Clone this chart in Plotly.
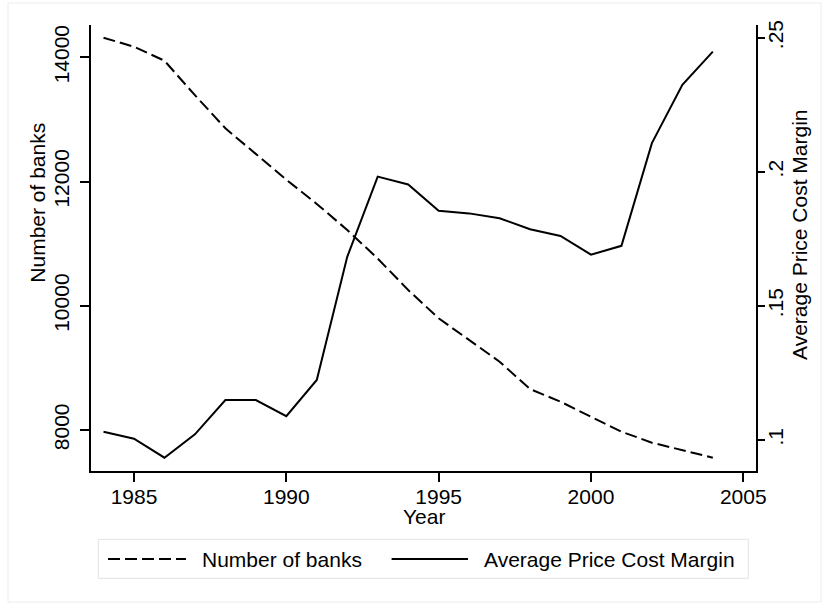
import plotly.graph_objects as go

# Annual series, 1984-2004
years = list(range(1984, 2005))
num_banks = [14315, 14170, 13945, 13390, 12857, 12440, 12030, 11640, 11220, 10760,
             10254, 9798, 9449, 9100, 8660, 8456, 8214, 7973, 7796, 7678, 7554]
price_cost_margin = [0.1031, 0.1005, 0.0934, 0.1021, 0.1149, 0.1149, 0.1089, 0.1224,
                     0.1683, 0.1982, 0.1953, 0.1855, 0.1845, 0.1827, 0.1786, 0.1761,
                     0.1691, 0.1724, 0.2107, 0.2324, 0.2448]

year_ticks = [1985, 1990, 1995, 2000, 2005]
bank_ticks = [8000, 10000, 12000, 14000]
bank_tick_labels = ["8000", "10000", "12000", "14000"]
pcm_ticks = [0.10, 0.15, 0.20, 0.25]
pcm_tick_labels = [".1", ".15", ".2", ".25"]

W, H = 829, 605
L, R, T, B = 91, 756, 25, 471          # plot-area edges in pixels
FONT = "Liberation Sans, Arial, Helvetica, sans-serif"
FS = 21


def px(x):
    return (x - L) / (R - L)


def py(y):
    return (B - y) / (B - T)


fig = go.Figure()
fig.add_trace(go.Scatter(
    x=years, y=num_banks, mode="lines", name="Number of banks",
    line=dict(color="black", width=2, dash="12px,5px"), yaxis="y"))
fig.add_trace(go.Scatter(
    x=years, y=price_cost_margin, mode="lines", name="Average Price Cost Margin",
    line=dict(color="black", width=2), yaxis="y2"))

axis_common = dict(showgrid=False, zeroline=False, showline=True, linecolor="black",
                   linewidth=1.6, ticks="outside", tickcolor="black", tickwidth=1.6,
                   tickfont=dict(family=FONT, size=FS, color="black"))

fig.update_layout(
    width=W, height=H,
    margin=dict(l=L, r=W - R, t=T, b=H - B, pad=0),
    paper_bgcolor="white", plot_bgcolor="white",
    showlegend=False,
    font=dict(family=FONT, size=FS, color="black"),
    xaxis=dict(range=[1983.589, 2005.417], tickvals=year_ticks, ticklen=9,
               ticklabelstandoff=-3, **axis_common),
    yaxis=dict(range=[7340, 14520], tickvals=bank_ticks, ticktext=bank_tick_labels,
               ticklen=9, tickangle=-90, ticklabelstandoff=3, **axis_common),
    yaxis2=dict(range=[0.08844, 0.25474], tickvals=pcm_ticks, ticktext=pcm_tick_labels,
                ticklen=7, tickangle=-90, overlaying="y", side="right",
                ticklabelstandoff=-7, **axis_common),
)

# Axis titles
fig.add_annotation(text="Number of banks", x=px(36.7), y=py(203), xref="paper", yref="paper",
                   textangle=-90, showarrow=False, xanchor="center", yanchor="middle",
                   font=dict(family=FONT, size=FS))
fig.add_annotation(text="Average Price Cost Margin", x=px(799), y=py(235), xref="paper",
                   yref="paper", textangle=-90, showarrow=False, xanchor="center",
                   yanchor="middle", font=dict(family=FONT, size=FS))
fig.add_annotation(text="Year", x=px(423.5), y=py(516), xref="paper", yref="paper",
                   showarrow=False, xanchor="center", yanchor="middle",
                   font=dict(family=FONT, size=FS))

# Outer frame
fig.add_shape(type="rect", xref="paper", yref="paper", x0=px(8), x1=px(821), y0=py(3),
              y1=py(602), line=dict(color="#ececec", width=1), layer="below")

# Legend box with line samples
fig.add_shape(type="rect", xref="paper", yref="paper", x0=px(98.3), x1=px(748.3),
              y0=py(539.3), y1=py(578.3), line=dict(color="#e3e3e3", width=1),
              fillcolor="white")
fig.add_shape(type="line", xref="paper", yref="paper", x0=px(108), x1=px(186),
              y0=py(559), y1=py(559), line=dict(color="black", width=2, dash="12px,5px"))
fig.add_shape(type="line", xref="paper", yref="paper", x0=px(391.6), x1=px(468),
              y0=py(559), y1=py(559), line=dict(color="black", width=2))
fig.add_annotation(text="Number of banks", x=px(200), y=py(559), xref="paper", yref="paper",
                   showarrow=False, xanchor="left", yanchor="middle",
                   font=dict(family=FONT, size=FS))
fig.add_annotation(text="Average Price Cost Margin", x=px(482), y=py(559), xref="paper",
                   yref="paper", showarrow=False, xanchor="left", yanchor="middle",
                   font=dict(family=FONT, size=FS))

fig.write_html("out.html")
